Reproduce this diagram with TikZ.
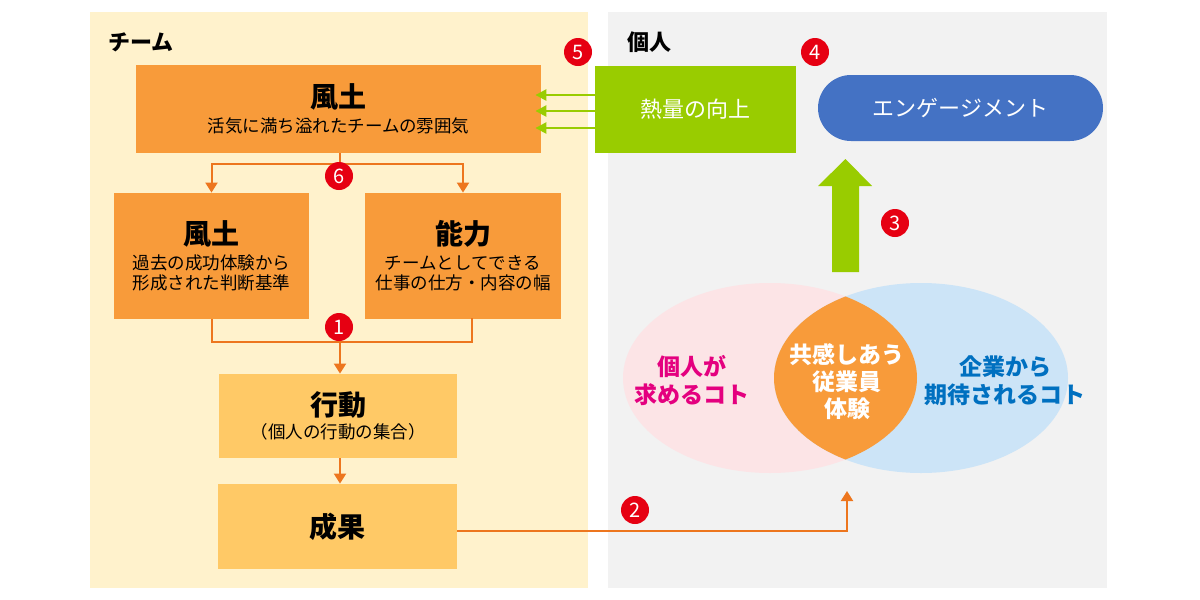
\documentclass[tikz,border=0pt]{standalone}
\usepackage{fontspec}
\setmainfont{Noto Sans CJK JP}
\usepackage{xcolor}
\usetikzlibrary{arrows.meta}
\usetikzlibrary{backgrounds}
\definecolor{teambg}{RGB}{255, 242, 204}
\definecolor{selfbg}{RGB}{242, 242, 242}
\definecolor{org}{RGB}{248, 155, 58}
\definecolor{lorg}{RGB}{255, 201, 102}
\definecolor{oln}{RGB}{237, 118, 30}
\definecolor{grn}{RGB}{153, 204, 0}
\definecolor{blu}{RGB}{68, 114, 196}
\definecolor{bdg}{RGB}{230, 0, 18}
\definecolor{pinkbg}{RGB}{252, 228, 230}
\definecolor{bluebg}{RGB}{204, 228, 247}
\definecolor{pinktx}{RGB}{228, 0, 127}
\definecolor{bluetx}{RGB}{0, 112, 192}
\newcommand{\boxtitle}[1]{{\fontsize{14}{16}\selectfont\bfseries #1}}

\begin{document}
\begin{tikzpicture}[x=0.5pt, y=-0.5pt,
    box/.style={fill=org, align=center, inner sep=0pt, font=\fontsize{8.75}{10}\selectfont},
    lbox/.style={box, fill=lorg},
    badge/.style={circle, fill=bdg, text=white, minimum size=14pt, inner sep=0pt, font=\fontsize{10}{10}\selectfont},
    oline/.style={oln, line width=1pt},
    oarrow/.style={oline, -{Triangle[width=6pt, length=5pt]}},
    garrow/.style={grn, line width=1.2pt, -{Triangle[width=5.5pt, length=5.5pt]}},
    venntext/.style={align=center, font=\fontsize{11.5}{14}\selectfont\bfseries}]
        \useasboundingbox (0,0) rectangle (1200,600);
        % panels
        \fill[teambg] (90,12) rectangle (588,588);
        \fill[selfbg] (608,12) rectangle (1107,588);
        \node[font=\fontsize{11}{11}\selectfont\bfseries, anchor=west, inner sep=0pt] (teamlbl) at (108,42) {チーム};
        \node[font=\fontsize{11}{11}\selectfont\bfseries, anchor=west, inner sep=0pt] (selflbl) at (627,42) {個人};
        % venn
        \fill[pinkbg] (770,378) ellipse [x radius=73.5pt, y radius=47.5pt];
        \fill[bluebg] (921,378) ellipse [x radius=73.5pt, y radius=47.5pt];
        \begin{scope}
            \clip (770,378) ellipse [x radius=73.5pt, y radius=47.5pt];
            \fill[org] (921,378) ellipse [x radius=73.5pt, y radius=47.5pt];
        \end{scope}
        \node[venntext, text=pinktx] (wants) at (692,381) {個人が\\求めるコト};
        \node[venntext, text=white, font=\fontsize{11.5}{13.5}\selectfont\bfseries] (share) at (847,382) {共感しあう\\従業員\\体験};
        \node[venntext, text=bluetx] (expect) at (1005,381) {企業から\\期待されるコト};
        \coordinate (venntip) at (847,491);
        % big arrow
        \fill[grn] (832,272) -- (832,186) -- (818,186) -- (845.5,159) -- (872,186) -- (859,186) -- (859,272) -- cycle;
        % boxes
        \node[box, minimum width=202.5pt, minimum height=44pt] (climate) at (338.5,109) {\boxtitle{風土}\\[2.5pt]活気に満ち溢れたチームの雰囲気};
        \node[box, minimum width=97.5pt, minimum height=63pt] (culture) at (211.5,256) {\boxtitle{風土}\\[2.5pt]過去の成功体験から\\形成された判断基準};
        \node[box, minimum width=98pt, minimum height=63pt] (ability) at (463,256) {\boxtitle{能力}\\[2.5pt]チームとしてできる\\仕事の仕方・内容の幅};
        \node[lbox, minimum width=119pt, minimum height=42pt] (action) at (338,416) {\boxtitle{行動}\\[1.5pt]（個人の行動の集合）};
        \node[lbox, minimum width=119.5pt, minimum height=42.5pt] (result) at (337.5,526.5) {\boxtitle{成果}};
        \node[fill=grn, text=white, minimum width=100.5pt, minimum height=43.5pt, inner sep=0pt, font=\fontsize{11}{11}\selectfont] (heat) at (695.5,109.5) {熱量の向上};
        \node[fill=blu, text=white, rounded corners=16.5pt, minimum width=142.5pt, minimum height=33pt, inner sep=0pt, font=\fontsize{11}{11}\selectfont] (engage) at (960.5,108) {エンゲージメント};
        % connectors
        \coordinate (split) at (340,164);
        \coordinate (merge) at (340,342);
        \draw[oline] (climate.south -| split) -- (split);
        \draw[oarrow] (split) -| (culture.north);
        \draw[oarrow] (split) -| (ability.north);
        \draw[oline] (culture.south) |- (merge) -| (472,318);
        \draw[oarrow] (merge) -- (merge |- action.north);
        \draw[oarrow] (action.south -| merge) -- (result.north -| merge);
        \draw[oarrow] (result.east |- 0,531) -| (venntip);
        \foreach \y in {95,111,128}
            \draw[garrow] (heat.west |- 0,\y) -- ([xshift=-3pt]climate.east |- 0,\y);
        \begin{scope}[on background layer]
            \foreach \y in {95,111,128}
                \draw[grn, line width=1.2pt] (heat.east |- 0,\y) -- ([xshift=8pt]engage.west |- 0,\y);
        \end{scope}
        % numbers
        \node[badge] (b1) at (339,327) {1};
        \node[badge] (b2) at (635,510) {2};
        \node[badge] (b3) at (895,223) {3};
        \node[badge] (b4) at (815,52) {4};
        \node[badge] (b5) at (578,52) {5};
        \node[badge] (b6) at (339,176) {6};
    \end{tikzpicture}
\end{document}
